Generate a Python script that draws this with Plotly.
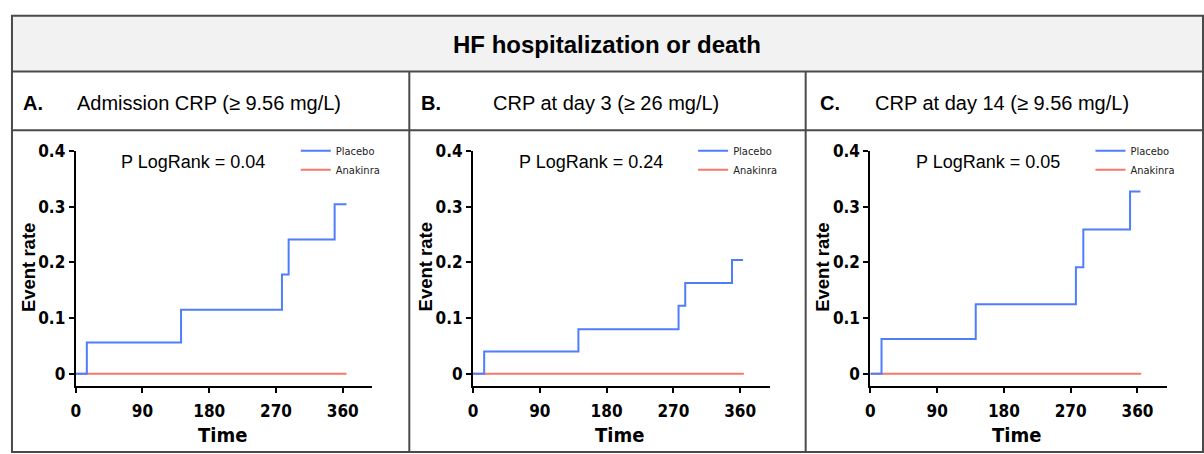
import plotly.graph_objects as go

W, H = 1204, 454

# ---------------- data ----------------
panel_letters = ["A.", "B.", "C."]
panel_titles = ["Admission CRP (≥ 9.56 mg/L)", "CRP at day 3 (≥ 26 mg/L)", "CRP at day 14 (≥ 9.56 mg/L)"]
p_logrank = ["0.04", "0.24", "0.05"]

placebo_time_A = [0, 15, 142, 278, 287, 349, 365]
placebo_rate_A = [0, 0.056, 0.115, 0.178, 0.241, 0.304, 0.304]
placebo_time_B = [0, 15, 142, 277, 286, 349, 364]
placebo_rate_B = [0, 0.040, 0.080, 0.122, 0.163, 0.204, 0.204]
placebo_time_C = [0, 15, 142, 277, 287, 350, 364]
placebo_rate_C = [0, 0.0625, 0.125, 0.191, 0.259, 0.327, 0.327]

anakinra_time = [0, 365]
anakinra_rate = [0, 0]

x_ticks = [0, 90, 180, 270, 360]
y_ticks = [0, 0.1, 0.2, 0.3, 0.4]
y_ticklabels = ["0", "0.1", "0.2", "0.3", "0.4"]

header_title = "HF hospitalization or death"
x_title = "Time"
y_title = "Event rate"

# ---------------- styles ----------------
BLUE = "#4f7dfc"
RED = "#f7776b"
FONT = "Liberation Sans, Arial, sans-serif"
COND = "DejaVu Sans Condensed, Liberation Sans, sans-serif"


def px_x(v):
    return v / W


def px_y(v):
    return 1 - v / H


placebo_t = [placebo_time_A, placebo_time_B, placebo_time_C]
placebo_r = [placebo_rate_A, placebo_rate_B, placebo_rate_C]

x_domains_px = [(71, 369), (470, 768), (869, 1167)]
y_domain_px = (144, 384)  # top, bottom

fig = go.Figure()

legend_names = ["legend", "legend2", "legend3"]
for i in range(3):
    ax = "" if i == 0 else str(i + 1)
    fig.add_trace(go.Scatter(
        x=anakinra_time, y=anakinra_rate, mode="lines", line=dict(color=RED, width=2),
        name="Anakinra", xaxis="x" + ax, yaxis="y" + ax, legend=legend_names[i], legendrank=2,
    ))
    fig.add_trace(go.Scatter(
        x=placebo_t[i], y=placebo_r[i], mode="lines", line=dict(color=BLUE, width=2, shape="hv"),
        name="Placebo", xaxis="x" + ax, yaxis="y" + ax, legend=legend_names[i], legendrank=1,
    ))

layout = dict(
    width=W, height=H,
    margin=dict(l=0, r=0, t=0, b=0),
    paper_bgcolor="white", plot_bgcolor="white",
    showlegend=True,
    font=dict(family=FONT, color="black"),
)

for i in range(3):
    ax = "" if i == 0 else str(i + 1)
    x0, x1 = x_domains_px[i]
    layout["xaxis" + ax] = dict(
        domain=[px_x(x0), px_x(x1)], range=[0, 400], anchor="y" + ax,
        tickvals=x_ticks, ticks="outside", ticklen=5, tickwidth=2, tickcolor="black",
        showline=True, linecolor="black", linewidth=2, showgrid=False, zeroline=False,
        ticklabelstandoff=4,
        tickfont=dict(family=COND, size=17, color="black", weight="bold"),
    )
    layout["yaxis" + ax] = dict(
        domain=[px_y(y_domain_px[1]), px_y(y_domain_px[0])], range=[-0.021, 0.4], anchor="x" + ax,
        tickvals=y_ticks, ticktext=y_ticklabels, ticks="outside", ticklen=5, tickwidth=2, tickcolor="black",
        showline=True, linecolor="black", linewidth=2, showgrid=False, zeroline=False,
        tickfont=dict(family=COND, size=17, color="black", weight="bold"),
    )
    layout[legend_names[i]] = dict(
        x=px_x(x0 + 221), y=px_y(129), xanchor="left", yanchor="top",
        bgcolor="rgba(0,0,0,0)", borderwidth=0,
        font=dict(family=COND, size=11, color="#222"),
        tracegroupgap=0, itemwidth=30,
    )

fig.update_layout(**layout)

# ---------------- table frame ----------------
LINE = "#4a4a4a"
shapes = []
shapes.append(dict(type="rect", xref="paper", yref="paper", x0=px_x(7), x1=px_x(1203), y0=px_y(63), y1=px_y(6),
                   fillcolor="#f2f2f2", line=dict(width=0), layer="below"))
shapes.append(dict(type="rect", xref="paper", yref="paper", x0=px_x(7), x1=px_x(1203), y0=px_y(452), y1=px_y(6),
                   line=dict(color=LINE, width=2), fillcolor="rgba(0,0,0,0)"))
for yy in [63, 123]:
    shapes.append(dict(type="line", xref="paper", yref="paper", x0=px_x(7), x1=px_x(1203), y0=px_y(yy), y1=px_y(yy),
                       line=dict(color=LINE, width=2)))
for xx in [406, 804]:
    shapes.append(dict(type="line", xref="paper", yref="paper", x0=px_x(xx), x1=px_x(xx), y0=px_y(452), y1=px_y(63),
                       line=dict(color=LINE, width=2)))
fig.update_layout(shapes=shapes)

# ---------------- texts ----------------
ann = []
ann.append(dict(text=header_title, x=px_x(605), y=px_y(35), xref="paper", yref="paper", showarrow=False,
                xanchor="center", yanchor="middle", font=dict(family=FONT, size=24, color="black", weight="bold")))
letter_x = [16, 416, 816]
title_x = [70, 488, 872]
for i in range(3):
    ann.append(dict(text=panel_letters[i], x=px_x(letter_x[i]), y=px_y(95), xref="paper", yref="paper",
                    showarrow=False, xanchor="left", yanchor="middle",
                    font=dict(family=FONT, size=20, color="black", weight="bold")))
    ann.append(dict(text=panel_titles[i], x=px_x(title_x[i]), y=px_y(95), xref="paper", yref="paper",
                    showarrow=False, xanchor="left", yanchor="middle",
                    font=dict(family=FONT, size=20, color="black")))
    x0, x1 = x_domains_px[i]
    ann.append(dict(text="P LogRank = " + p_logrank[i], x=px_x(x0 + 118), y=px_y(155), xref="paper", yref="paper",
                    showarrow=False, xanchor="center", yanchor="middle",
                    font=dict(family=FONT, size=18, color="black")))
    # axis titles
    ann.append(dict(text=x_title, x=px_x((x0 + x1) / 2 - 2), y=px_y(435), xref="paper", yref="paper",
                    showarrow=False, xanchor="center", yanchor="middle",
                    font=dict(family=COND, size=20, color="black", weight="bold")))
    ann.append(dict(text=y_title, x=px_x(x0 - 48), y=px_y(263), xref="paper", yref="paper",
                    showarrow=False, xanchor="center", yanchor="middle", textangle=-90,
                    font=dict(family=FONT, size=18.5, color="black", weight="bold")))
fig.update_layout(annotations=ann)

fig.write_html("out.html", config={"displayModeBar": False},
               post_script="document.body.style.margin='0';document.body.style.overflow='hidden';")
